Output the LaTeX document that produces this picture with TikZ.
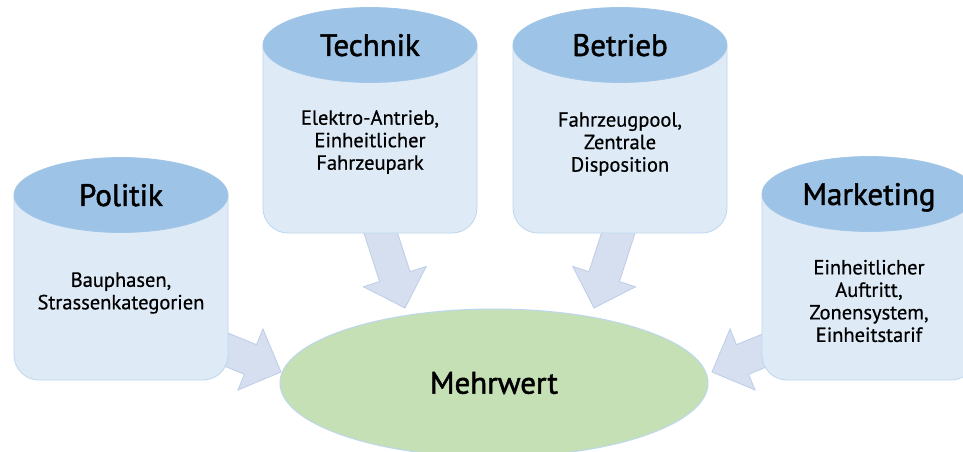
\documentclass[tikz,border=0pt]{standalone}
\usepackage{fontspec}
\setmainfont{PT Sans}
\usetikzlibrary{calc,shapes.geometric}
\definecolor{topblue}{HTML}{9DC3E6}
\definecolor{bodyblue}{HTML}{DEEBF7}
\definecolor{edgeblue}{HTML}{BDD7EE}
\definecolor{arrowfill}{HTML}{D6DFF0}
\definecolor{arrowedge}{HTML}{BCCDE8}
\definecolor{mwgreen}{HTML}{C5E0B4}
\tikzset{
  cyltop/.style={ellipse, fill=topblue, draw=topblue!85!edgeblue, line width=0.8pt,
    minimum width=214pt, minimum height=75pt, inner sep=0pt, text depth=0pt,
    font=\fontsize{31}{34}\selectfont\addfontfeature{FakeBold=1.6}},
  bodytext/.style={align=center, inner sep=0pt,
    font=\fontsize{20.5}{22.5}\selectfont\addfontfeature{FakeBold=0.6}},
  cylbody/.style={fill=bodyblue, draw=edgeblue, line width=0.8pt, rounded corners=25pt},
  blockarrow/.style={fill=arrowfill, draw=arrowedge, line width=0.8pt, line join=miter},
  goal/.style={ellipse, fill=mwgreen, draw=edgeblue, line width=1pt,
    minimum width=428pt, minimum height=148pt, inner sep=0pt,
    font=\fontsize{31}{34}\selectfont\addfontfeature{FakeBold=1.6}}
}
% #1 tail coordinate, #2 tip coordinate
\newcommand\blockarr[2]{%
  \coordinate (hb) at ($(#2)!33pt!(#1)$);
  \draw[blockarrow] ($(#1)!16pt!90:(#2)$) -- ($(hb)!16pt!90:(#2)$) -- ($(hb)!33pt!90:(#2)$)
    -- (#2) -- ($(hb)!33pt!-90:(#2)$) -- ($(hb)!16pt!-90:(#2)$) -- ($(#1)!16pt!-90:(#2)$) -- cycle;
}
% #1 name, #2 cx, #3 ellipse centre y, #4 bottom y, #5 heading
\newcommand\cylbox[5]{%
  \draw[cylbody] ({#2-107},#3) -- ({#2-107},#4) -- ({#2+107},#4) -- ({#2+107},#3);
  \node[cyltop] (#1) at (#2,#3) {#5};
}
\begin{document}
\begin{tikzpicture}[x=1pt,y=-1pt]
\useasboundingbox (0,0) rectangle (963,452);
\clip (0,0) rectangle (963,452);
\fill[white] (0,0) rectangle (963,452);

% goal
\node[goal] (mw) at (494,383) {Mehrwert};

% arrow end points
\coordinate (politikTail) at (198,338);
\coordinate (politikTip) at (281,372);
\coordinate (technikTail) at (371,203);
\coordinate (technikTip) at (405,308);
\coordinate (betriebTail) at (628,203);
\coordinate (betriebTip) at (594,308);
\coordinate (marketingTail) at (795,338);
\coordinate (marketingTip) at (712,372);

\blockarr{politikTail}{politikTip}
\blockarr{technikTail}{technikTip}
\blockarr{betriebTail}{betriebTip}
\blockarr{marketingTail}{marketingTip}

% cylinders
\cylbox{politik}{121}{195}{380}{Politik}
\cylbox{technik}{370}{45}{233}{Technik}
\cylbox{betrieb}{620}{45}{233}{Betrieb}
\cylbox{marketing}{869}{194}{380}{Marketing}

\node[bodytext] (politikText) at (121,293) {Bauphasen,\\Strassenkategorien};
\node[bodytext] (technikText) at (370,142) {Elektro-Antrieb,\\Einheitlicher\\Fahrzeupark};
\node[bodytext] (betriebText) at (620,144) {Fahrzeugpool,\\Zentrale\\Disposition};
\node[bodytext] (marketingText) at (869,301) {Einheitlicher\\Auftritt,\\Zonensystem,\\Einheitstarif};
\end{tikzpicture}
\end{document}
